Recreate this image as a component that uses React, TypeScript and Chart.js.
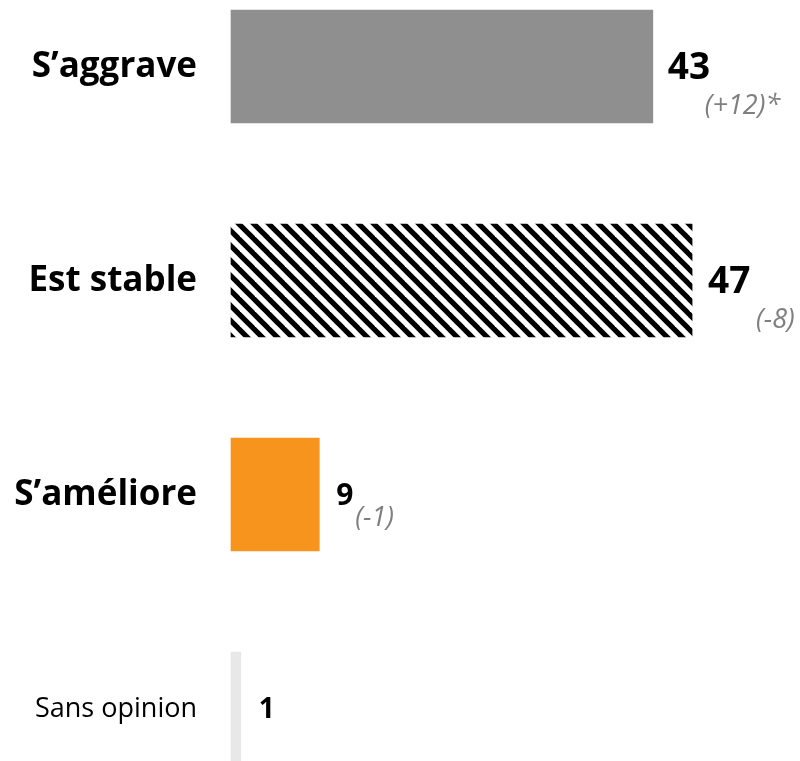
import React, { useEffect, useRef } from "react";
import { Chart, registerables } from "chart.js";

Chart.register(...registerables);

const categories = ["S’aggrave", "Est stable", "S’améliore", "Sans opinion"];
const values = [43, 47, 9, 1];
const changes = ["(+12)*", "(-8)", "(-1)", ""];
const positions = [0, 1, 2, 3];

const FONT = "'Open Sans', sans-serif";

function makeHatch(): CanvasPattern | string {
  const c = document.createElement("canvas");
  const s = 15;
  c.width = s;
  c.height = s;
  const g = c.getContext("2d");
  if (!g) return "#000";
  g.fillStyle = "#ffffff";
  g.fillRect(0, 0, s, s);
  g.strokeStyle = "#000000";
  g.lineWidth = 5.2;
  for (const k of [-s, 0, s]) {
    g.beginPath();
    g.moveTo(k - 2, -2);
    g.lineTo(k + s + 2, s + 2);
    g.stroke();
  }
  const p = g.createPattern(c, "repeat");
  return p || "#000";
}

const labelPlugin = {
  id: "labelPlugin",
  afterDatasetsDraw(chart: any) {
    const ctx = chart.ctx;
    const meta = chart.getDatasetMeta(0);
    const valSize = [37, 37, 30, 28];
    const valDx = [15, 16, 17, 18];
    const chgDx = [52, 64, 36, 0];
    const chgDy = [40, 40, 24, 0];
    ctx.save();
    meta.data.forEach((bar: any, i: number) => {
      const y = bar.y;
      ctx.fillStyle = "#000";
      ctx.textAlign = "right";
      ctx.textBaseline = "middle";
      ctx.font = i < 3 ? `bold 35px ${FONT}` : `27px ${FONT}`;
      ctx.fillText(categories[i], 197, y + 1);

      ctx.textAlign = "left";
      ctx.font = `bold ${valSize[i]}px ${FONT}`;
      ctx.fillText(String(values[i]), bar.x + valDx[i], y + 2);

      if (changes[i]) {
        ctx.font = `italic 27px ${FONT}`;
        ctx.fillStyle = "#7f7f7f";
        ctx.fillText(changes[i], bar.x + chgDx[i], y + chgDy[i]);
      }
    });
    ctx.restore();
  },
};

export default function App() {
  const ref = useRef<HTMLCanvasElement>(null);
  useEffect(() => {
    if (!ref.current) return;
    const hatch = makeHatch();
    const colors: any[] = ["#8f8f8f", hatch, "#f7941d", "#e8e8e8"];
    const chart = new Chart(ref.current, {
      type: "bar",
      data: {
        datasets: [
          {
            data: positions.map((p, i) => ({ x: values[i], y: p })),
            backgroundColor: colors,
            borderWidth: 0,
            barThickness: 113,
          },
        ],
      },
      options: {
        indexAxis: "y",
        animation: false,
        responsive: false,
        maintainAspectRatio: false,
        layout: { padding: 0 },
        plugins: { legend: { display: false }, tooltip: { enabled: false } },
        scales: {
          x: {
            type: "linear",
            display: false,
            offset: false,
            min: -231 / 9.81,
            max: (800 - 231) / 9.81,
          },
          y: {
            type: "linear",
            display: false,
            offset: false,
            reverse: true,
            min: -66.5 / 214,
            max: (761 - 66.5) / 214,
          },
        },
      },
      plugins: [labelPlugin],
    } as any);
    return () => chart.destroy();
  }, []);
  return (
    <div style={{ position: "absolute", left: 0, top: 0, width: 800, height: 761, overflow: "hidden", background: "#fff" }}>
      <canvas ref={ref} width={800} height={761} style={{ display: "block" }} />
    </div>
  );
}
